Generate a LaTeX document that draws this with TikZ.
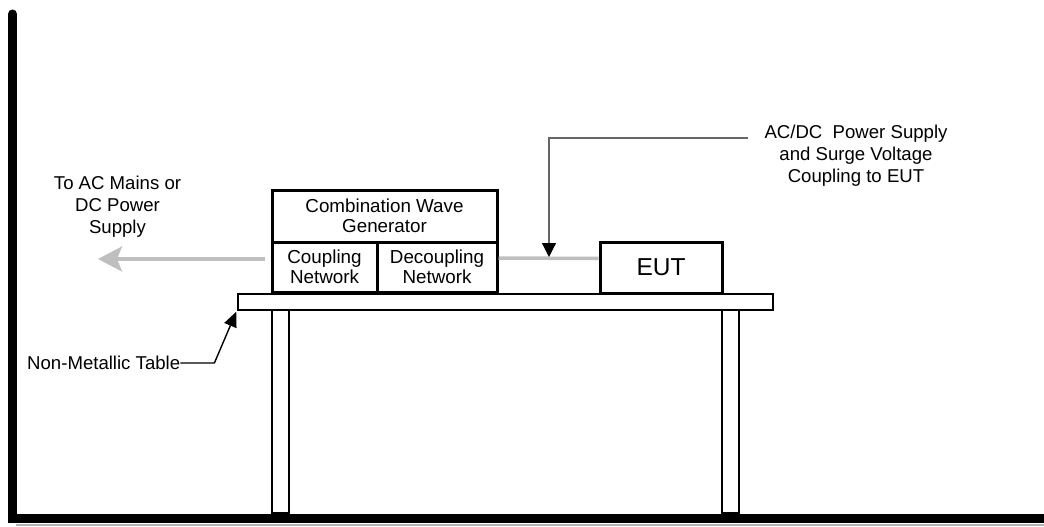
\documentclass[tikz,border=0pt]{standalone}
\usepackage{fontspec}
\setmainfont{Liberation Sans}
\usetikzlibrary{arrows.meta,calc}
\tikzset{
  box/.style={draw=black, line width=3pt, fill=white, inner sep=0pt, align=center,
              font=\fontsize{18.8}{19.5}\selectfont},
  label/.style={inner sep=0pt, align=center, font=\fontsize{18.6}{22}\selectfont},
  wood/.style={draw=black, line width=1.5pt, fill=white, inner sep=0pt},
  cable/.style={draw=black!25, line width=3.5pt},
  pointer/.style={draw=black!60, line width=1.2pt, -{Triangle[length=14pt,width=14pt,fill=black,color=black]}},
  callout/.style={draw=black, line width=1.4pt, -{Triangle[length=15pt,width=13pt]}}
}
\begin{document}
\begin{tikzpicture}[x=1pt,y=-1pt]
\useasboundingbox (0,0) rectangle (1044,527);
% room: wall and floor
\draw[black!30, line width=2pt] (16,524.5) -- (1044,524.5);
\draw[line width=9pt, line cap=round, line join=miter] (12.5,14) -- (12.5,518) -- (1050,518);
% table legs
\node[wood, minimum width=17pt, minimum height=203pt] (legL) at (280.5,411.5) {};
\node[wood, minimum width=17pt, minimum height=203pt] (legR) at (730.5,411.5) {};
% table top
\node[wood, minimum width=535pt, minimum height=16pt] (table) at (505.5,302) {};
% equipment
\node[box, minimum width=225pt, minimum height=52pt] (gen) at (384.5,216) {Combination Wave\\Generator};
\node[box, minimum width=105pt, minimum height=50pt] (coup) at (324.5,267) {Coupling\\Network};
\node[box, minimum width=120pt, minimum height=50pt] (dec) at (437,267) {Decoupling\\Network};
\node[box, minimum width=122pt, minimum height=51pt, font=\fontsize{24.5}{26}\selectfont] (eut) at (661,267.5) {EUT};
% cables
\draw[cable] ([yshift=9pt]dec.east) -- ([yshift=9pt]eut.west);
\coordinate (mains) at (98,259);
\draw[cable, shorten <=6pt, -{Stealth[length=24pt,width=25pt,inset=5pt]}] ([yshift=8pt]coup.west) -- (mains);
% labels
\node[label] (lmains) at (117.5,207) {To AC Mains or\\DC Power\\Supply};
\node[label] (lsupply) at (856,156) {AC/DC\ \ Power Supply\\and Surge Voltage\\Coupling to EUT};
\node[label, anchor=west] (ltable) at (27,363) {Non-Metallic Table};
% pointers
\coordinate (ps) at (748,138);
\coordinate (tp) at (549,257);
\draw[pointer] (ps) -| (tp);
\draw[callout] (ltable.east) -- ++(34,0) -- ([xshift=-1pt,yshift=-1pt]table.south west);
\end{tikzpicture}
\end{document}
